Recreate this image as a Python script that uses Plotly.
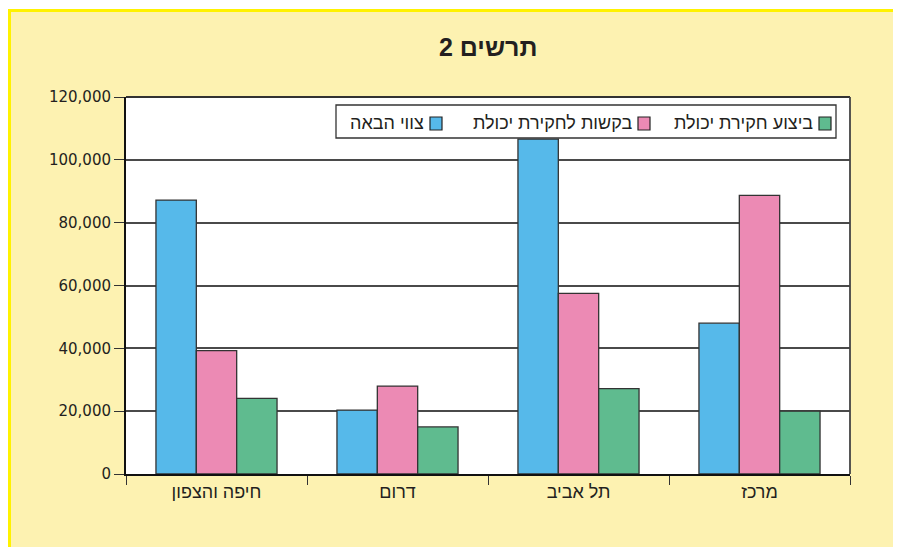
import plotly.graph_objects as go

categories = ["חיפה והצפון", "דרום", "תל אביב", "מרכז"]
series_names = ["צווי הבאה", "בקשות לחקירת יכולת", "ביצוע חקירת יכולת"]
summons = [87200, 20300, 106600, 48000]
requests = [39300, 28000, 57500, 88700]
investigations = [24100, 15000, 27200, 20000]
y_ticks = [0, 20000, 40000, 60000, 80000, 100000, 120000]
title_text = "תרשים 2"

colors = ["#56B9EA", "#EC8AB4", "#5FBB8F"]

# the page body adds an 8px margin; figure coordinates are screen - OFF
OFF = 8
SW, SH = 901, 547
W, H = SW - OFF, SH - OFF
L, R, T, B = 126 - OFF, 850 - OFF, 97 - OFF, 474 - OFF


def px(x):
    """screen x -> paper x"""
    return (x - OFF - L) / (R - L)


def py(y):
    """screen y -> paper y"""
    return (B - (y - OFF)) / (B - T)


fig = go.Figure()
for name, vals, col in zip(series_names, [summons, requests, investigations], colors):
    fig.add_trace(go.Bar(
        x=categories, y=vals, name=name,
        marker=dict(color=col, line=dict(color="#333333", width=1.3)),
        showlegend=False,
    ))

text_color = "#231F20"
heb_font = "Liberation Sans"

fig.update_layout(
    width=W, height=H,
    margin=dict(l=L, r=W - R, t=T, b=H - B, autoexpand=False),
    paper_bgcolor="#FDF2B1",
    plot_bgcolor="#FFFFFF",
    barmode="group", bargap=0.331, bargroupgap=0,
    font=dict(family=heb_font, color=text_color),
    xaxis=dict(
        type="category", categoryorder="array", categoryarray=categories,
        range=[-0.5, 3.5],
        showline=True, linecolor="#111111", linewidth=2,
        ticks="outside", tickson="boundaries", ticklen=9, tickwidth=1.3, tickcolor="#333333",
        tickfont=dict(family=heb_font, size=18, color=text_color),
        showgrid=False, zeroline=False,
    ),
    xaxis2=dict(
        overlaying="x", anchor="y", range=[-0.5, 3.5],
        tickvals=[-0.5, 0.5, 1.5, 2.5, 3.5],
        ticks="inside", ticklen=9, tickwidth=1.3, tickcolor="#333333",
        showticklabels=False, showgrid=False, zeroline=False, showline=False,
    ),
    yaxis=dict(
        range=[0, 120000], tickvals=y_ticks, tickformat=",",
        showline=True, linecolor="#111111", linewidth=2,
        ticks="outside", ticklen=10, tickwidth=1.3, tickcolor="#333333",
        tickfont=dict(family="DejaVu Sans", size=15, color=text_color),
        showgrid=True, gridcolor="#4A4A4A", gridwidth=1.5, zeroline=False,
    ),
)

shapes = []
# bright yellow frame lines (top and left)
shapes.append(dict(type="rect", xref="paper", yref="paper", x0=px(OFF), x1=px(SW), y0=py(12), y1=py(OFF),
                   fillcolor="#FFFFFF", line=dict(width=0), layer="below"))
shapes.append(dict(type="rect", xref="paper", yref="paper", x0=px(OFF), x1=px(SW), y0=py(12), y1=py(9),
                   fillcolor="#FFF200", line=dict(width=0), layer="below"))
shapes.append(dict(type="rect", xref="paper", yref="paper", x0=px(OFF), x1=px(OFF + 3), y0=py(SH), y1=py(9),
                   fillcolor="#FFF200", line=dict(width=0), layer="below"))
# plot frame (top/right)
shapes.append(dict(type="line", xref="paper", yref="paper", x0=0, x1=1, y0=1, y1=1,
                   line=dict(color="#333333", width=1.8), layer="above"))
shapes.append(dict(type="line", xref="paper", yref="paper", x0=1, x1=1, y0=0, y1=1,
                   line=dict(color="#444444", width=1.8), layer="above"))

# manual RTL legend
shapes.append(dict(type="rect", xref="paper", yref="paper", x0=px(336), x1=px(836), y0=py(138), y1=py(105),
                   fillcolor="#FFFFFF", line=dict(color="#333333", width=1.3), layer="above"))
sq_right = [442, 650, 831]
text_right = [426, 634, 815]
annotations = []
for name, col, sr, tr in zip(series_names, colors, sq_right, text_right):
    shapes.append(dict(type="rect", xref="paper", yref="paper", x0=px(sr - 12), x1=px(sr),
                       y0=py(130), y1=py(117), fillcolor=col,
                       line=dict(color="#222222", width=1.2), layer="above"))
    annotations.append(dict(xref="paper", yref="paper", x=px(tr), y=py(123), text=name,
                            showarrow=False, xanchor="right", yanchor="middle",
                            font=dict(family=heb_font, size=18, color=text_color)))

annotations.append(dict(xref="paper", yref="paper", x=px(488), y=py(47), text="<b>" + title_text + "</b>",
                        showarrow=False, xanchor="center", yanchor="middle",
                        font=dict(family=heb_font, size=25, color=text_color)))

fig.update_layout(shapes=shapes, annotations=annotations)
fig.write_html("out.html")
